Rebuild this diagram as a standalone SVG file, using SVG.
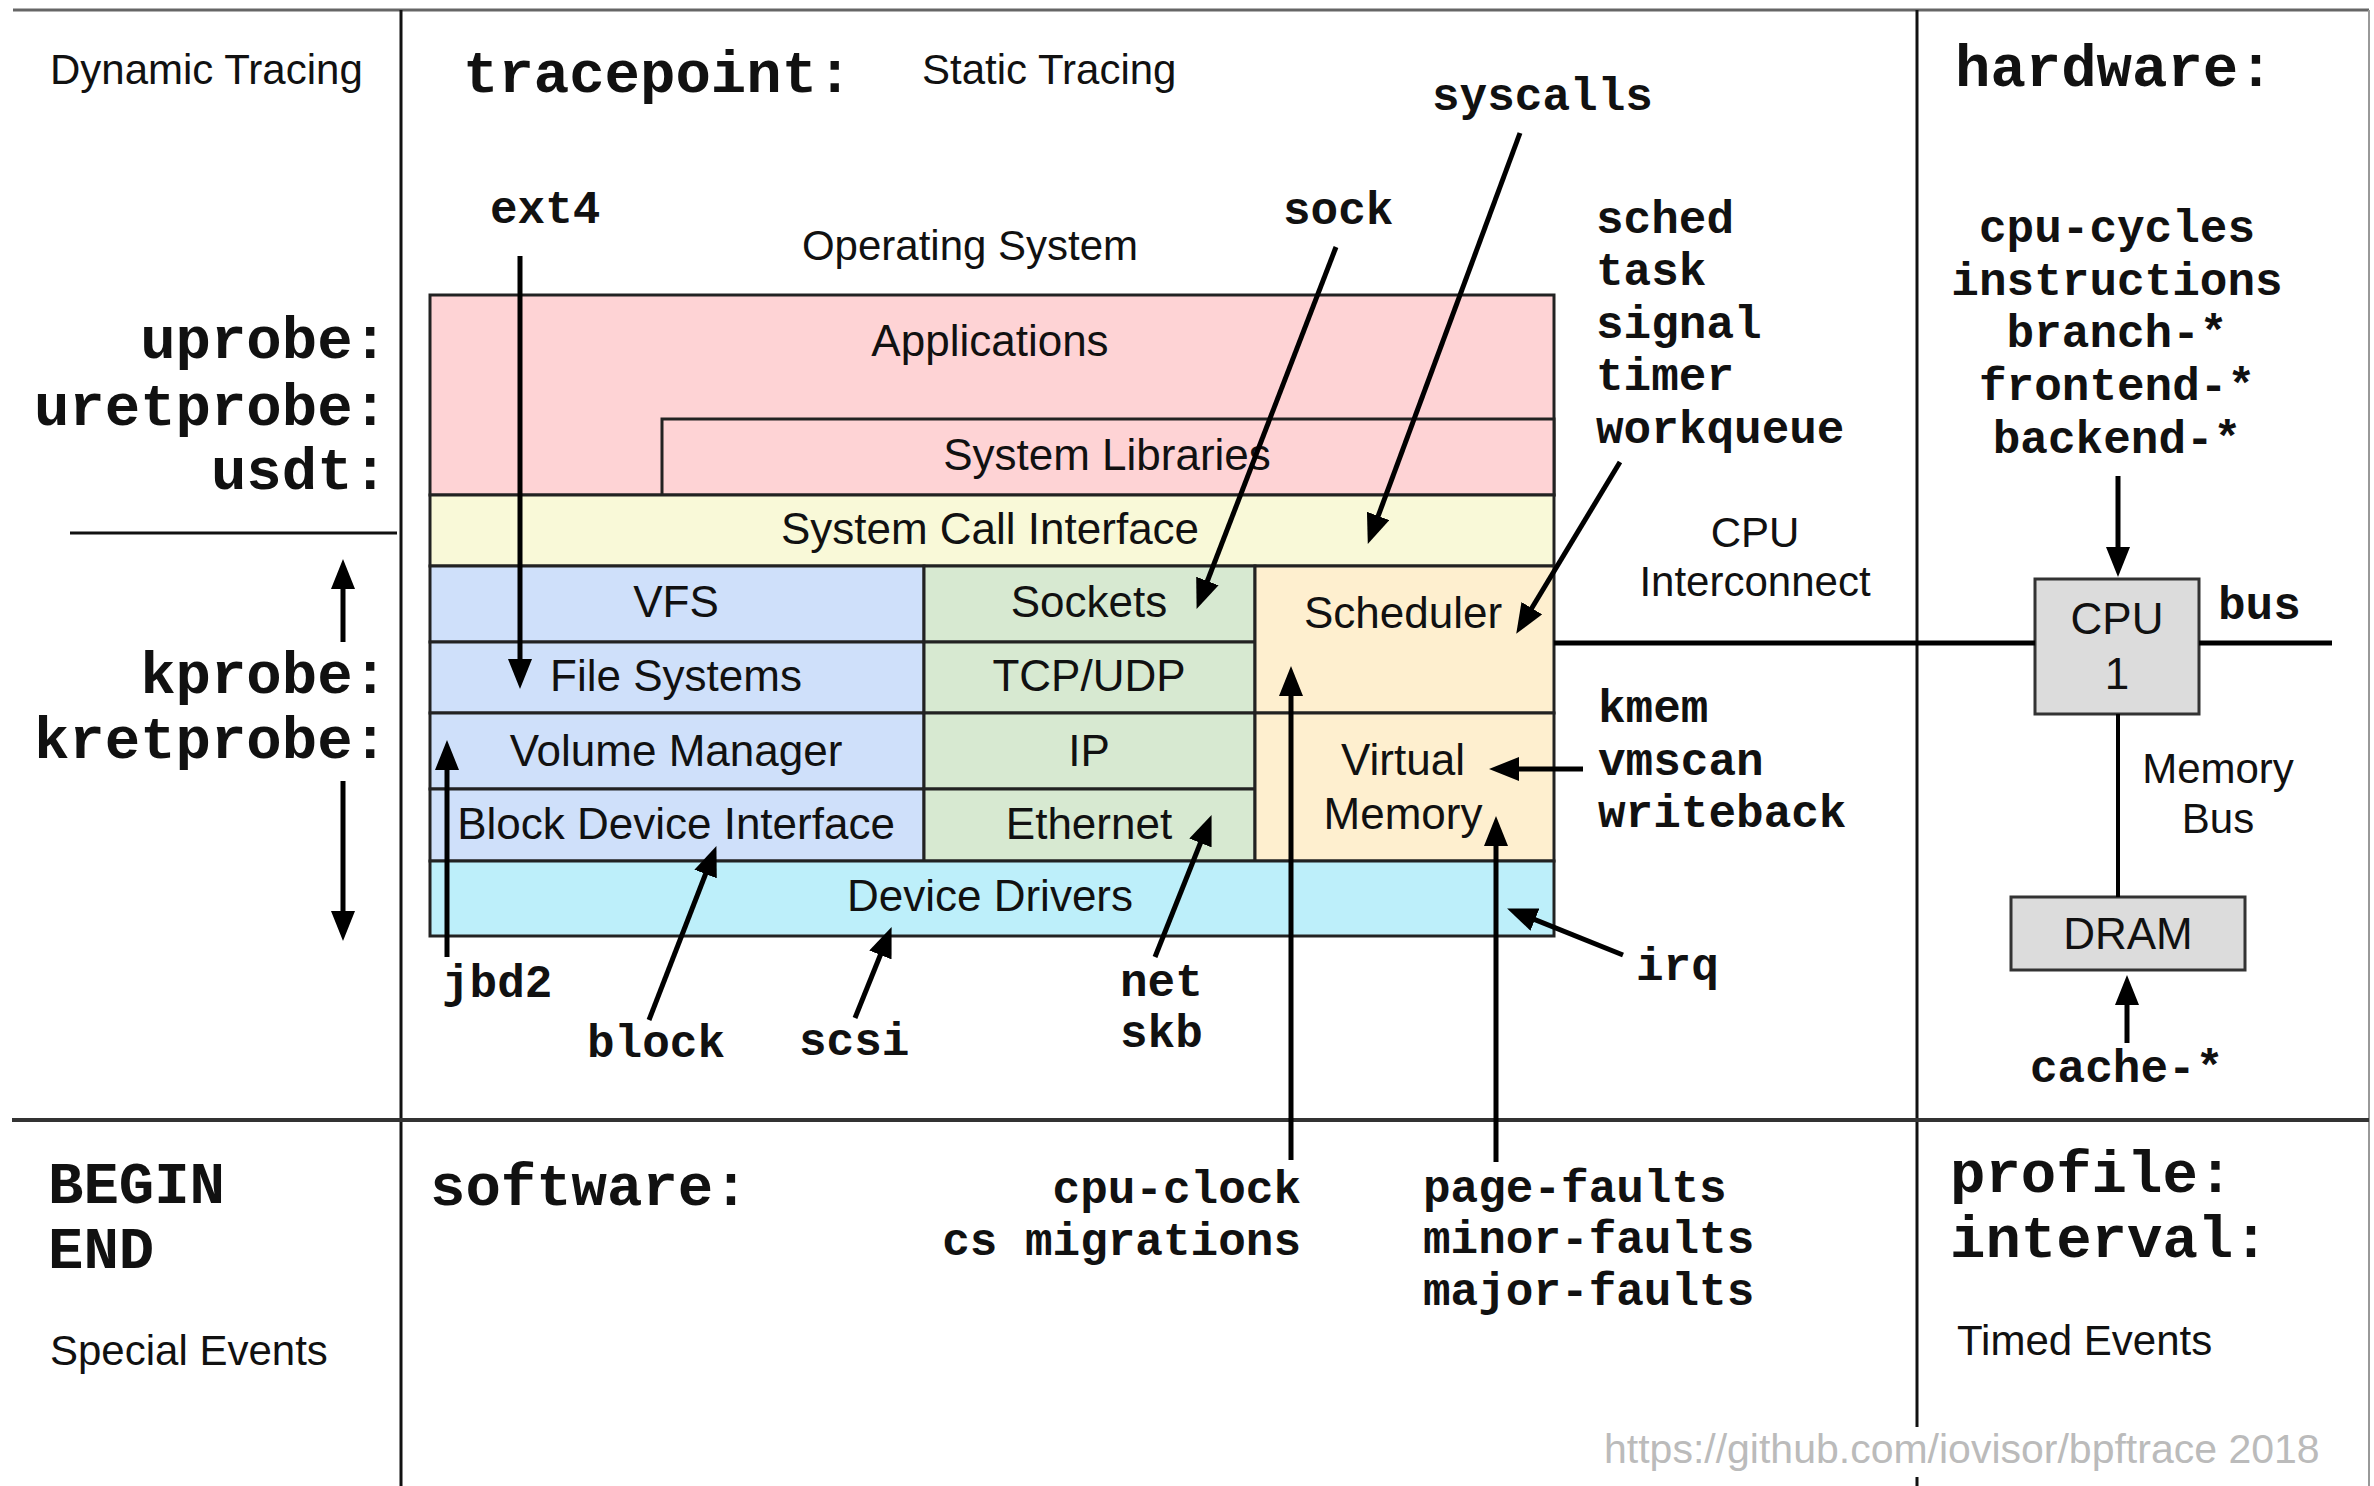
<svg xmlns="http://www.w3.org/2000/svg" width="2374" height="1486" viewBox="0 0 2374 1486">
<style>
.sans{font-family:"Liberation Sans",Arial,sans-serif;fill:#111}
.lbl{font-family:"Liberation Sans",Arial,sans-serif;font-size:44px;fill:#111;text-anchor:middle}
.big{font-family:"Liberation Mono","Courier New",monospace;font-weight:bold;font-size:59px;fill:#111}
.mono{font-family:"Liberation Mono","Courier New",monospace;font-weight:bold;font-size:46px;fill:#111}
.box{stroke:#222;stroke-width:3}
.arr{stroke:#000;stroke-width:5;fill:none;marker-end:url(#ah)}
.div{stroke:#111;stroke-width:3}
</style>
<defs>
<marker id="ah" viewBox="0 0 30 24" refX="15" refY="12" markerWidth="30" markerHeight="24" markerUnits="userSpaceOnUse" orient="auto">
<path d="M0,0 L30,12 L0,24 z" fill="#000"/>
</marker>
</defs>
<rect x="0" y="0" width="2374" height="1486" fill="#fff"/>
<g id="frame">
<line x1="13" y1="10" x2="2369" y2="10" stroke="#666" stroke-width="3"/>
<line x1="2369" y1="10" x2="2369" y2="1486" stroke="#999" stroke-width="2"/>
<line class="div" x1="401" y1="10" x2="401" y2="1486"/>
<line class="div" x1="1917" y1="10" x2="1917" y2="1427"/>
<line class="div" x1="1917" y1="1477" x2="1917" y2="1486"/>
<line x1="12" y1="1120" x2="2369" y2="1120" stroke="#333" stroke-width="4"/>
<line class="div" x1="70" y1="533" x2="397" y2="533"/>
</g>
<g id="os-stack">
<rect class="box" x="430" y="295" width="1124" height="200" fill="#FED3D5"/>
<rect class="box" x="662" y="419" width="892" height="76" fill="#FED3D5"/>
<rect class="box" x="430" y="495" width="1124" height="71" fill="#F9F9D8"/>
<rect class="box" x="430" y="566" width="494" height="76" fill="#CFE0FA"/>
<rect class="box" x="430" y="642" width="494" height="71" fill="#CFE0FA"/>
<rect class="box" x="430" y="713" width="494" height="76" fill="#CFE0FA"/>
<rect class="box" x="430" y="789" width="494" height="72" fill="#CFE0FA"/>
<rect class="box" x="924" y="566" width="331" height="76" fill="#D7E9D1"/>
<rect class="box" x="924" y="642" width="331" height="71" fill="#D7E9D1"/>
<rect class="box" x="924" y="713" width="331" height="76" fill="#D7E9D1"/>
<rect class="box" x="924" y="789" width="331" height="72" fill="#D7E9D1"/>
<rect class="box" x="1255" y="566" width="299" height="147" fill="#FEEFCF"/>
<rect class="box" x="1255" y="713" width="299" height="148" fill="#FEEFCF"/>
<rect class="box" x="430" y="861" width="1124" height="75" fill="#BDEFFA"/>
<text class="lbl" x="990" y="356">Applications</text>
<text class="lbl" x="1107" y="470">System Libraries</text>
<text class="lbl" x="990" y="544">System Call Interface</text>
<text class="lbl" x="676" y="617">VFS</text>
<text class="lbl" x="676" y="691">File Systems</text>
<text class="lbl" x="676" y="766">Volume Manager</text>
<text class="lbl" x="676" y="839">Block Device Interface</text>
<text class="lbl" x="1089" y="617">Sockets</text>
<text class="lbl" x="1089" y="691">TCP/UDP</text>
<text class="lbl" x="1089" y="766">IP</text>
<text class="lbl" x="1089" y="839">Ethernet</text>
<text class="lbl" x="1403" y="628">Scheduler</text>
<text class="lbl" x="1403" y="775">Virtual</text>
<text class="lbl" x="1403" y="829">Memory</text>
<text class="lbl" x="990" y="911">Device Drivers</text>
</g>
<g id="cpu">
<rect x="2035" y="579" width="164" height="135" fill="#DCDCDC" stroke="#333" stroke-width="3"/>
<text class="lbl" x="2117" y="634">CPU</text>
<text class="lbl" x="2117" y="689">1</text>
</g>
<g id="dram">
<rect x="2011" y="897" width="234" height="73" fill="#DCDCDC" stroke="#333" stroke-width="3"/>
<text class="lbl" x="2128" y="949">DRAM</text>
</g>
<g id="connectors">
<line x1="1554" y1="643" x2="2035" y2="643" stroke="#000" stroke-width="5"/>
<line x1="2199" y1="643" x2="2332" y2="643" stroke="#000" stroke-width="5"/>
<line x1="2118" y1="714" x2="2118" y2="897" stroke="#000" stroke-width="4"/>
<line class="arr" x1="520" y1="256" x2="520" y2="674"/>
<line class="arr" x1="1336" y1="247" x2="1202" y2="595"/>
<line class="arr" x1="1520" y1="133" x2="1373" y2="530"/>
<line class="arr" x1="1620" y1="462" x2="1524" y2="621"/>
<line class="arr" x1="447" y1="957" x2="447" y2="755"/>
<line class="arr" x1="649" y1="1020" x2="711" y2="860"/>
<line class="arr" x1="855" y1="1018" x2="886" y2="941"/>
<line class="arr" x1="1155" y1="957" x2="1206" y2="829"/>
<line class="arr" x1="1623" y1="955" x2="1521" y2="914"/>
<line class="arr" x1="1583" y1="769" x2="1504" y2="769"/>
<line class="arr" x1="1291" y1="1160" x2="1291" y2="681"/>
<line class="arr" x1="1496" y1="1162" x2="1496" y2="831"/>
<line class="arr" x1="2118" y1="476" x2="2118" y2="562"/>
<line class="arr" x1="2127" y1="1043" x2="2127" y2="990"/>
<line class="arr" x1="343" y1="642" x2="343" y2="574"/>
<line class="arr" x1="343" y1="781" x2="343" y2="926"/>
</g>
<g id="labels">
<text class="sans" x="50" y="84" font-size="42">Dynamic Tracing</text>
<text class="big" x="463" y="92">tracepoint:</text>
<text class="sans" x="922" y="84" font-size="42">Static Tracing</text>
<text class="big" x="1955" y="86">hardware:</text>
<text class="mono" x="1432" y="110">syscalls</text>
<text class="mono" x="1283" y="224">sock</text>
<text class="mono" x="490" y="223">ext4</text>
<text class="sans" x="970" y="260" font-size="42" text-anchor="middle">Operating System</text>
<text class="mono" x="1596" y="233">sched</text>
<text class="mono" x="1596" y="285">task</text>
<text class="mono" x="1596" y="338">signal</text>
<text class="mono" x="1596" y="390">timer</text>
<text class="mono" x="1596" y="443">workqueue</text>
<text class="mono" x="2117" y="242" text-anchor="middle">cpu-cycles</text>
<text class="mono" x="2117" y="295" text-anchor="middle">instructions</text>
<text class="mono" x="2117" y="347" text-anchor="middle">branch-*</text>
<text class="mono" x="2117" y="400" text-anchor="middle">frontend-*</text>
<text class="mono" x="2117" y="453" text-anchor="middle">backend-*</text>
<text class="big" x="388" y="358" text-anchor="end">uprobe:</text>
<text class="big" x="388" y="425" text-anchor="end">uretprobe:</text>
<text class="big" x="388" y="489" text-anchor="end">usdt:</text>
<text class="big" x="388" y="693" text-anchor="end">kprobe:</text>
<text class="big" x="388" y="758" text-anchor="end">kretprobe:</text>
<text class="sans" x="1755" y="547" font-size="42" text-anchor="middle">CPU</text>
<text class="sans" x="1755" y="596" font-size="42" text-anchor="middle">Interconnect</text>
<text class="mono" x="2218" y="619">bus</text>
<text class="sans" x="2218" y="783" font-size="42" text-anchor="middle">Memory</text>
<text class="sans" x="2218" y="833" font-size="42" text-anchor="middle">Bus</text>
<text class="mono" x="1598" y="722">kmem</text>
<text class="mono" x="1598" y="775">vmscan</text>
<text class="mono" x="1598" y="827">writeback</text>
<text class="mono" x="1636" y="980">irq</text>
<text class="mono" x="2030" y="1082">cache-*</text>
<text class="mono" x="442" y="997">jbd2</text>
<text class="mono" x="587" y="1057">block</text>
<text class="mono" x="799" y="1055">scsi</text>
<text class="mono" x="1120" y="996">net</text>
<text class="mono" x="1120" y="1047">skb</text>
<text class="big" x="48" y="1203">BEGIN</text>
<text class="big" x="48" y="1268">END</text>
<text class="sans" x="50" y="1365" font-size="42">Special Events</text>
<text class="big" x="430" y="1205">software:</text>
<text class="mono" x="1301" y="1203" text-anchor="end">cpu-clock</text>
<text class="mono" x="1301" y="1255" text-anchor="end">cs migrations</text>
<text class="mono" x="1423" y="1202">page-faults</text>
<text class="mono" x="1423" y="1253">minor-faults</text>
<text class="mono" x="1423" y="1305">major-faults</text>
<text class="big" x="1950" y="1192">profile:</text>
<text class="big" x="1950" y="1257">interval:</text>
<text class="sans" x="1957" y="1355" font-size="42">Timed Events</text>
<text class="sans" x="1604" y="1463" font-size="41" style="fill:#bbb">https://github.com/iovisor/bpftrace 2018</text>
</g>
</svg>
